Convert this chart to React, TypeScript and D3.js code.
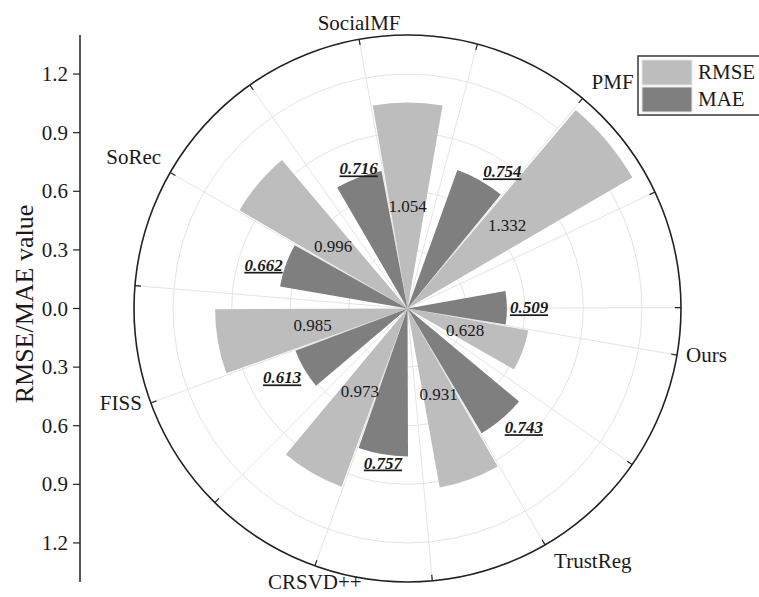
import React, { useEffect } from "react";
import * as d3 from "d3";

const categories = ["Ours", "TrustReg", "CRSVD++", "FISS", "SoRec", "SocialMF", "PMF"];
const rmseValues = [0.628, 0.931, 0.973, 0.985, 0.996, 1.054, 1.332];
const maeValues = [0.509, 0.743, 0.757, 0.613, 0.662, 0.716, 0.754];
const radialTicks = [0.3, 0.6, 0.9, 1.2];
const seriesNames = ["RMSE", "MAE"];

const W = 759;
const H = 597;
const cx = 407.5;
const cy = 308.5;
const R = 273.5;
const RMAX = 1.4;
const UNITS = 14.4;
const START_DEG = 99.8;
const LIGHT = "#bdbdbd";
const DARK = "#7f7f7f";
const FONT = "'Liberation Serif', 'Times New Roman', serif";

const rScale = d3.scaleLinear().domain([0, RMAX]).range([0, R]);
const aScale = d3
  .scaleLinear()
  .domain([0, UNITS])
  .range([(START_DEG * Math.PI) / 180, (START_DEG * Math.PI) / 180 + 2 * Math.PI]);
const yUp = d3.scaleLinear().domain([0, RMAX]).range([cy, cy - R]);
const yDown = d3.scaleLinear().domain([0, RMAX]).range([cy, cy + R]);

const pt = (a: number, r: number): [number, number] => [cx + Math.sin(a) * r, cy - Math.cos(a) * r];

function anchorLabel(a: number, r: number, pad: number, fs: number) {
  const s = Math.sin(a);
  const c = Math.cos(a);
  const [px, py] = pt(a, r);
  let x = px;
  let anchor = "middle";
  if (s > 0.4) {
    anchor = "start";
    x = px + pad;
  } else if (s < -0.4) {
    anchor = "end";
    x = px - pad;
  }
  let y = py + 0.33 * fs;
  if (c > 0.4) y = py - pad;
  else if (c < -0.4) y = py + pad + 0.66 * fs;
  return { x, y, anchor };
}

export default function App() {
  useEffect(() => {
    document.body.style.margin = "0";
  }, []);

  const arc = d3.arc<any>();
  const barW = 0.78;
  const gap = 0.02;

  const bars: any[] = [];
  categories.forEach((cat, i) => {
    const c = 2 * i;
    bars.push({
      key: "mae" + i,
      fill: DARK,
      v: maeValues[i],
      a0: aScale(c - gap - barW),
      a1: aScale(c - gap),
    });
    bars.push({
      key: "rmse" + i,
      fill: LIGHT,
      v: rmseValues[i],
      a0: aScale(c + gap),
      a1: aScale(c + gap + barW),
    });
  });

  const unitTicks = d3.range(0, 15);

  return (
    <svg width={W} height={H} style={{ position: "absolute", left: 0, top: 0, background: "#fff" }} fontFamily={FONT}>
      <rect x={0} y={0} width={W} height={H} fill="#fff" />
      {/* grid circles */}
      {radialTicks.map((t) => (
        <circle key={"g" + t} cx={cx} cy={cy} r={rScale(t)} fill="none" stroke="#e4e4e4" strokeWidth={1} />
      ))}
      {/* spokes */}
      {unitTicks.map((u) => {
        const [x, y] = pt(aScale(u), R);
        return <line key={"s" + u} x1={cx} y1={cy} x2={x} y2={y} stroke="#e4e4e4" strokeWidth={1} />;
      })}
      {/* bars */}
      {bars.map((b) => (
        <path
          key={b.key}
          transform={`translate(${cx},${cy})`}
          d={arc({ innerRadius: 0, outerRadius: rScale(b.v), startAngle: b.a0, endAngle: b.a1 }) as string}
          fill={b.fill}
        />
      ))}
      {/* outer circle */}
      <circle cx={cx} cy={cy} r={R} fill="none" stroke="#222" strokeWidth={1.6} />
      {unitTicks.map((u) => {
        const a = aScale(u);
        const [x1, y1] = pt(a, R);
        const [x2, y2] = pt(a, R - 6);
        return <line key={"t" + u} x1={x1} y1={y1} x2={x2} y2={y2} stroke="#222" strokeWidth={1.2} />;
      })}
      {/* category labels */}
      {categories.map((cat, i) => {
        const l = anchorLabel(aScale(2 * i), R, 9, 21);
        return (
          <text key={"c" + cat} x={l.x} y={l.y} textAnchor={l.anchor} fontSize={21} fill="#1a1a1a">
            {cat}
          </text>
        );
      })}
      {/* RMSE value labels */}
      {categories.map((cat, i) => {
        const a = aScale(2 * i + gap + barW / 2);
        const [x, y] = pt(a, rScale(rmseValues[i] / 2));
        return (
          <text key={"rv" + cat} x={x} y={y + 6} textAnchor="middle" fontSize={17} fill="#1a1a1a">
            {rmseValues[i].toFixed(3)}
          </text>
        );
      })}
      {/* MAE value labels */}
      {categories.map((cat, i) => {
        const a = aScale(2 * i - gap - barW / 2);
        const l = anchorLabel(a, rScale(maeValues[i]), 3, 17);
        return (
          <text
            key={"mv" + cat}
            x={l.x}
            y={l.y}
            textAnchor={l.anchor}
            fontSize={17}
            fontWeight="bold"
            fontStyle="italic"
            textDecoration="underline"
            fill="#1a1a1a"
          >
            {maeValues[i].toFixed(3)}
          </text>
        );
      })}
      {/* left radial axis */}
      <line x1={80} y1={yUp(RMAX)} x2={80} y2={yDown(RMAX)} stroke="#222" strokeWidth={1.5} />
      {[...radialTicks.slice().reverse().map((t) => ({ t, y: yUp(t) })), { t: 0, y: cy }, ...radialTicks.map((t) => ({ t, y: yDown(t) }))].map(
        (d, k) => (
          <g key={"yt" + k}>
            <line x1={73} y1={d.y} x2={80} y2={d.y} stroke="#222" strokeWidth={1.2} />
            <text x={68} y={d.y + 7} textAnchor="end" fontSize={21} fill="#1a1a1a">
              {d.t.toFixed(1)}
            </text>
          </g>
        )
      )}
      <text x={33} y={304} transform="rotate(-90,33,304)" textAnchor="middle" fontSize={26} fill="#1a1a1a">
        RMSE/MAE value
      </text>
      {/* legend */}
      <rect x={638} y={56} width={140} height={59} fill="#fff" stroke="#444" strokeWidth={1.6} />
      {seriesNames.map((n, k) => (
        <g key={"lg" + n}>
          <rect x={642} y={60 + k * 27} width={50} height={25} fill={k === 0 ? LIGHT : DARK} stroke="#e6e6e6" strokeWidth={1} />
          <text x={698} y={79 + k * 27} fontSize={21} fill="#1a1a1a">
            {n}
          </text>
        </g>
      ))}
    </svg>
  );
}
